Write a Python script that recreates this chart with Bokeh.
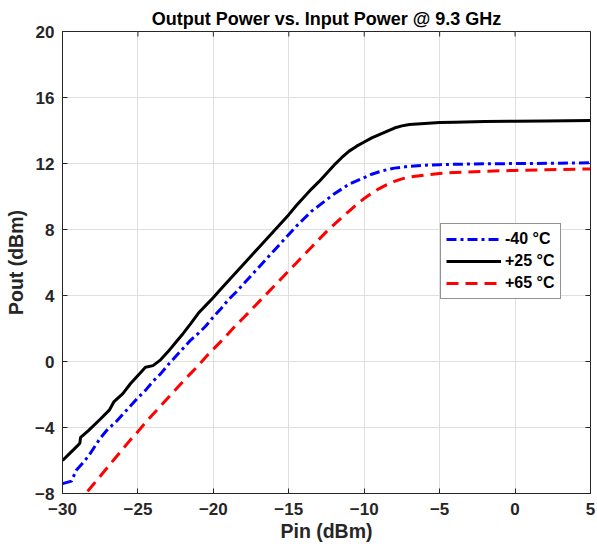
import math
from bokeh.plotting import figure
from bokeh.models import Range1d, FixedTicker, Legend, LegendItem, ColumnDataSource
from bokeh.embed import file_html
from bokeh.resources import INLINE

# ---- data ----
pin_m40 = [-30, -29.4, -29.1, -28.7, -28.25, -27.5, -27.0, -26.5, -26.0, -25.5, -25.0, -24.5,
           -24.0, -23.5, -23.0, -22.5, -22.0, -21.5, -21.0, -20.5, -20.0, -19.5, -19.0, -18.5,
           -18.0, -17.5, -17.0, -16.5, -16.0, -15.5, -15.0, -14.5, -14.0, -13.5, -13.0, -12.5,
           -12.0, -11.5, -11.0, -10.5, -10.0, -9.5, -9.0, -8.5, -8.0, -7.0, -6.0, -5.0, -3.0,
           -1.0, 1.0, 3.0, 5.0]
pout_m40 = [-7.4, -7.25, -6.6, -6.2, -5.7, -4.65, -4.1, -3.7, -3.2, -2.7, -2.2, -1.75,
            -1.2, -0.75, -0.2, 0.3, 0.8, 1.3, 1.7, 2.15, 2.7, 3.2, 3.75, 4.2,
            4.7, 5.2, 5.7, 6.2, 6.7, 7.2, 7.7, 8.2, 8.65, 9.1, 9.45, 9.8,
            10.15, 10.45, 10.75, 10.95, 11.15, 11.35, 11.5, 11.62, 11.72, 11.83, 11.9, 11.93, 11.97,
            11.99, 12.0, 12.02, 12.04]

pin_p25 = [-30, -29.5, -29.0, -28.85, -28.8, -28.3, -27.5, -26.9, -26.6, -26.0, -25.5, -25.0,
           -24.5, -24.0, -23.5, -23.0, -22.5, -22.0, -21.5, -21.0, -20.5, -20.0, -19.5, -19.0,
           -18.5, -18.0, -17.5, -17.0, -16.5, -16.0, -15.5, -15.0, -14.5, -14.0, -13.5, -13.0,
           -12.5, -12.0, -11.5, -11.0, -10.5, -10.0, -9.5, -9.0, -8.5, -8.0, -7.5, -7.0, -6.0,
           -5.0, -4.0, -2.0, 0.0, 2.0, 5.0]
pout_p25 = [-6.0, -5.55, -5.1, -4.95, -4.6, -4.2, -3.5, -2.95, -2.45, -1.95, -1.35, -0.85,
            -0.35, -0.25, 0.1, 0.6, 1.15, 1.7, 2.3, 2.92, 3.4, 3.88, 4.4, 4.9,
            5.4, 5.9, 6.4, 6.9, 7.4, 7.9, 8.4, 8.9, 9.45, 9.95, 10.45, 10.9,
            11.4, 11.9, 12.35, 12.75, 13.05, 13.3, 13.55, 13.75, 13.95, 14.15, 14.28, 14.36, 14.43,
            14.48, 14.5, 14.54, 14.56, 14.58, 14.6]

pin_p65 = [-30, -29.0, -28.5, -28.0, -27.5, -27.0, -26.5, -26.0, -25.5, -25.0, -24.5, -24.0,
           -23.5, -23.0, -22.5, -22.0, -21.5, -21.0, -20.5, -20.0, -19.5, -19.0, -18.5, -18.0,
           -17.5, -17.0, -16.5, -16.0, -15.5, -15.0, -14.5, -14.0, -13.5, -13.0, -12.5, -12.0,
           -11.5, -11.0, -10.5, -10.0, -9.5, -9.0, -8.5, -8.0, -7.5, -7.0, -6.0, -5.0, -4.0,
           -2.0, 0.0, 2.0, 5.0]
pout_p65 = [-9.6, -8.6, -8.05, -7.5, -6.95, -6.4, -5.85, -5.3, -4.75, -4.25, -3.7, -3.2,
            -2.7, -2.2, -1.7, -1.2, -0.72, -0.25, 0.27, 0.75, 1.22, 1.7, 2.2, 2.65,
            3.12, 3.6, 4.07, 4.55, 5.02, 5.5, 5.97, 6.45, 6.92, 7.4, 7.87, 8.3,
            8.72, 9.12, 9.52, 9.88, 10.2, 10.48, 10.72, 10.92, 11.07, 11.18, 11.3, 11.4, 11.46,
            11.53, 11.58, 11.62, 11.67]

x_ticks = [-30, -25, -20, -15, -10, -5, 0, 5]
y_ticks = [-8, -4, 0, 4, 8, 12, 16, 20]
labels = ["-40 \u00b0C", "+25 \u00b0C", "+65 \u00b0C"]

X_MIN, X_MAX = x_ticks[0], x_ticks[-1]
Y_MIN, Y_MAX = y_ticks[0], y_ticks[-1]

FONT = "Liberation Sans"
AX = "#262626"
GRID = "#dfdfdf"

p = figure(width=597, height=551, output_backend="svg", toolbar_location=None,
           x_range=Range1d(X_MIN, X_MAX), y_range=Range1d(Y_MIN, Y_MAX),
           min_border_left=62, min_border_right=7, min_border_top=31, min_border_bottom=58,
           title="Output Power vs. Input Power @ 9.3 GHz")
p.title.text_font = FONT
p.title.text_font_size = "18px"
p.title.text_font_style = "bold"
p.title.align = "center"
p.title.text_color = "#000000"
p.title.standoff = 5

p.outline_line_color = AX
p.outline_line_width = 1
p.background_fill_color = "white"
p.border_fill_color = "white"

for ax, ticks in ((p.xaxis[0], x_ticks), (p.yaxis[0], y_ticks)):
    ax.ticker = FixedTicker(ticks=ticks)
    ax.major_label_text_font = FONT
    ax.major_label_text_font_size = "17px"
    ax.major_label_text_font_style = "bold"
    ax.major_label_text_color = "#262626"
    ax.axis_line_color = AX
    ax.major_tick_line_color = AX
    ax.major_tick_in = 5
    ax.major_tick_out = 0
    ax.minor_tick_line_color = None
    ax.axis_label_text_font = FONT
    ax.axis_label_text_font_size = "19.5px"
    ax.axis_label_text_font_style = "bold"
    ax.axis_label_text_color = "#262626"

p.xaxis.axis_label = "Pin (dBm)"
p.yaxis.axis_label = "Pout (dBm)"
p.xaxis.major_label_standoff = 9
p.yaxis.major_label_standoff = 8
p.xaxis.axis_label_standoff = 2
p.yaxis.axis_label_standoff = 5

p.xgrid.ticker = FixedTicker(ticks=x_ticks)
p.ygrid.ticker = FixedTicker(ticks=y_ticks)
p.grid.grid_line_color = GRID
p.grid.grid_line_width = 1

# inward tick marks on the top and right edges of the box (half of each dash is clipped)
p.scatter(x_ticks, [Y_MAX] * len(x_ticks), marker="dash", size=10, angle=math.pi / 2,
          line_color=AX, line_width=1)
p.scatter([X_MAX] * len(y_ticks), y_ticks, marker="dash", size=10,
          line_color=AX, line_width=1)

s1 = ColumnDataSource(dict(x=pin_m40, y=pout_m40))
s2 = ColumnDataSource(dict(x=pin_p25, y=pout_p25))
s3 = ColumnDataSource(dict(x=pin_p65, y=pout_p65))

r1 = p.line("x", "y", source=s1, line_color="#0000ff", line_width=3, line_dash="10 4 3 4")
r2 = p.line("x", "y", source=s2, line_color="#000000", line_width=3)
r3 = p.line("x", "y", source=s3, line_color="#ff0000", line_width=3, line_dash="12 7")

legend = Legend(items=[LegendItem(label=labels[0], renderers=[r1]),
                       LegendItem(label=labels[1], renderers=[r2]),
                       LegendItem(label=labels[2], renderers=[r3])],
                location=(378, 194))
legend.label_text_font = FONT
legend.label_text_font_size = "16px"
legend.label_text_font_style = "bold"
legend.label_text_color = "#000000"
legend.glyph_width = 55
legend.glyph_height = 20
legend.label_height = 20
legend.label_standoff = 4
legend.spacing = 2
legend.padding = 5
legend.margin = 0
legend.border_line_color = "#262626"
legend.border_line_width = 1
legend.background_fill_color = "white"
legend.background_fill_alpha = 1
p.add_layout(legend, "center")

open("out.html", "w").write(file_html(p, INLINE))
